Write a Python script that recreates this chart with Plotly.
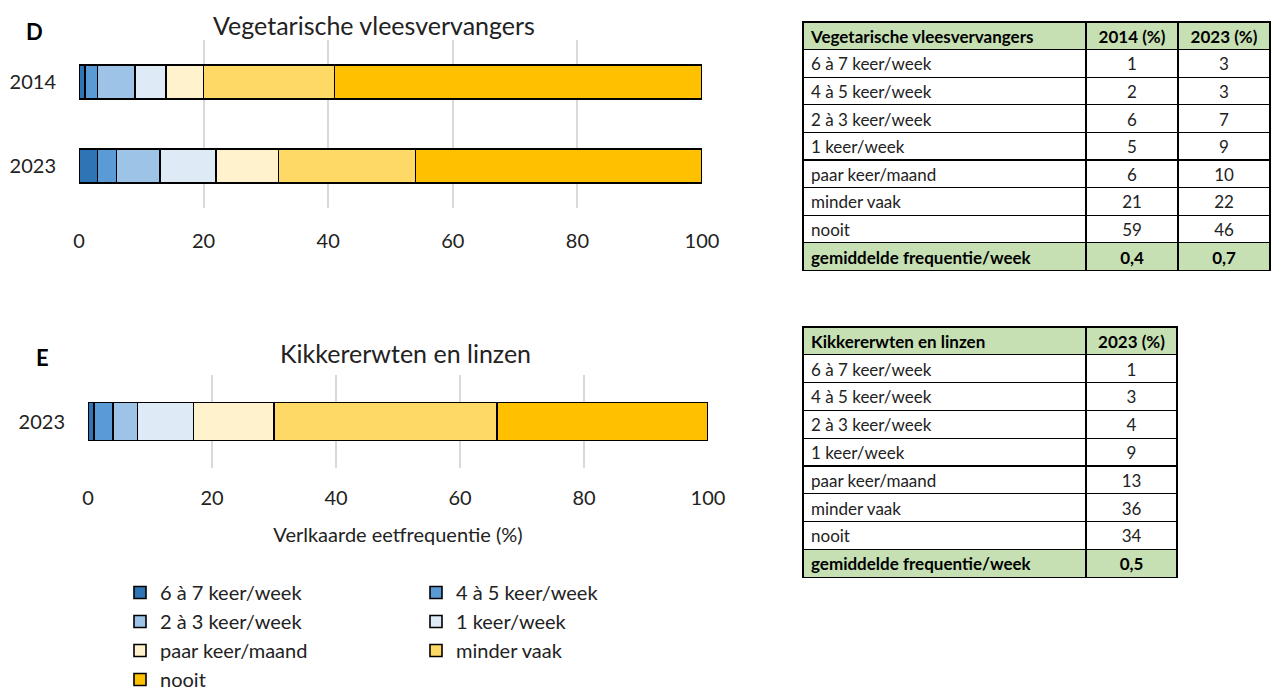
import plotly.graph_objects as go

# ---------------- data ----------------
categories = ["6 à 7 keer/week", "4 à 5 keer/week", "2 à 3 keer/week", "1 keer/week",
              "paar keer/maand", "minder vaak", "nooit"]
years_veg = ["2014", "2023"]
veg_2014 = [1, 2, 6, 5, 6, 21, 59]
veg_2023 = [3, 3, 7, 9, 10, 22, 46]
years_kik = ["2023"]
kik_2023 = [1, 3, 4, 9, 13, 36, 34]
avg_label = "gemiddelde frequentie/week"
veg_avg = ["0,4", "0,7"]
kik_avg = ["0,5"]
title_veg = "Vegetarische vleesvervangers"
title_kik = "Kikkererwten en linzen"
x_ticks = [0, 20, 40, 60, 80, 100]

colors = ["#2E75B6", "#5B9BD5", "#9DC3E6", "#DEEBF7", "#FFF2CC", "#FFD966", "#FFC000"]
FONT = "Lato"
TXT = "#222222"
OFF = 8  # default page body margin
W, H = 1279 - OFF, 695 - OFF

def px_x(p):
    return (p - OFF) / W

def px_y(p):
    return 1 - (p - OFF) / H

fig = go.Figure()

# ---------------- bars ----------------
for i, cat in enumerate(categories):
    fig.add_trace(go.Bar(
        x=[veg_2014[i], veg_2023[i]], y=years_veg, orientation="h",
        name=cat, marker=dict(color=colors[i], line=dict(color="black", width=1.6)),
        xaxis="x", yaxis="y", legend="legend" if i % 2 == 0 else "legend2",
        legendgroup=cat, showlegend=True, hoverinfo="x+name"))
    fig.add_trace(go.Bar(
        x=[kik_2023[i]], y=years_kik, orientation="h",
        name=cat, marker=dict(color=colors[i], line=dict(color="black", width=1.6)),
        xaxis="x2", yaxis="y2", legendgroup=cat, showlegend=False, hoverinfo="x+name"))

# ---------------- tables ----------------
GREEN = "#C6E0B4"
LINE = dict(color="black", width=1.2)
n = len(categories)


def add_table(x0, x1, top, row_h, colw, head, cols, foot):
    ncol = len(head)
    align = ["left"] + ["center"] * (ncol - 1)
    body_bottom = top + (n + 1) * row_h
    fig.add_trace(go.Table(
        domain=dict(x=[px_x(x0), px_x(x1)], y=[px_y(body_bottom + 2), px_y(top)]),
        columnwidth=colw,
        header=dict(values=head, fill_color=GREEN, line=LINE, align=align, height=row_h,
                    font=dict(family=FONT, size=17, color="black", weight="bold")),
        cells=dict(values=cols, fill_color="white", line=LINE, align=align, height=row_h,
                   font=dict(family=FONT, size=17, color=TXT)),
    ))
    # summary row (bold, green)
    fig.add_trace(go.Table(
        domain=dict(x=[px_x(x0), px_x(x1)], y=[px_y(body_bottom + row_h + 6), px_y(body_bottom)]),
        columnwidth=colw,
        header=dict(values=foot, fill_color=GREEN, line=LINE, align=align, height=row_h,
                    font=dict(family=FONT, size=17, color="black", weight="bold")),
        cells=dict(values=[[] for _ in range(ncol)], fill_color="white",
                   line=dict(color="rgba(0,0,0,0)", width=0), height=1),
    ))


add_table(803, 1270, 22, 27.6, [283, 92, 92],
          [title_veg, "2014 (%)", "2023 (%)"],
          [categories, veg_2014, veg_2023],
          [avg_label] + veg_avg)
add_table(803, 1177, 327, 27.8, [283, 91],
          [title_kik, "2023 (%)"],
          [categories, kik_2023],
          [avg_label] + kik_avg)

# ---------------- layout ----------------
axis_font = dict(family=FONT, size=20, color=TXT)
fig.update_layout(
    width=W, height=H,
    margin=dict(l=0, r=0, t=0, b=0, autoexpand=False),
    paper_bgcolor="white", plot_bgcolor="white",
    barmode="stack", bargap=0.59,
    font=dict(family=FONT, color=TXT),
    xaxis=dict(domain=[px_x(79), px_x(702)], range=[0, 100], tickvals=x_ticks,
               showgrid=True, gridcolor="#D9D9D9", gridwidth=2, zeroline=False,
               showline=False, ticks="", tickfont=axis_font, ticklabelstandoff=19,
               anchor="y", fixedrange=True, automargin=False),
    yaxis=dict(domain=[px_y(208), px_y(40)], range=[1.5, -0.5], type="category",
               showgrid=False, zeroline=False, showline=False, ticks="",
               tickfont=axis_font, ticklabelstandoff=22, anchor="x", fixedrange=True,
               automargin=False),
    xaxis2=dict(domain=[px_x(88), px_x(708)], range=[0, 100], tickvals=x_ticks,
                showgrid=True, gridcolor="#D9D9D9", gridwidth=2, zeroline=False,
                showline=False, ticks="", tickfont=axis_font, ticklabelstandoff=16,
                title=dict(text="Verlkaarde eetfrequentie (%)", font=axis_font, standoff=19),
                anchor="y2", fixedrange=True, automargin=False),
    yaxis2=dict(domain=[px_y(468), px_y(375)], range=[-0.5, 0.5], type="category",
                showgrid=False, zeroline=False, showline=False, ticks="",
                tickfont=axis_font, ticklabelstandoff=22, anchor="x2", fixedrange=True,
                automargin=False),
    legend=dict(x=px_x(120), y=px_y(573), xanchor="left", yanchor="top",
                orientation="v", traceorder="normal", tracegroupgap=3.3,
                font=dict(family=FONT, size=20, color=TXT), bgcolor="rgba(0,0,0,0)"),
    legend2=dict(x=px_x(416), y=px_y(573), xanchor="left", yanchor="top",
                 orientation="v", traceorder="normal", tracegroupgap=3.3,
                 font=dict(family=FONT, size=20, color=TXT), bgcolor="rgba(0,0,0,0)"),
    annotations=[
        dict(text=title_veg, x=px_x(374), y=px_y(25), xref="paper", yref="paper",
             xanchor="center", yanchor="middle",
             showarrow=False, font=dict(family=FONT, size=25, color=TXT)),
        dict(text=title_kik, x=px_x(405), y=px_y(353), xref="paper", yref="paper",
             xanchor="center", yanchor="middle",
             showarrow=False, font=dict(family=FONT, size=25, color=TXT)),
        dict(text="<b>D</b>", x=px_x(34), y=px_y(32), xref="paper", yref="paper",
             xanchor="center", yanchor="middle",
             showarrow=False, font=dict(family=FONT, size=22, color="black")),
        dict(text="<b>E</b>", x=px_x(42), y=px_y(357), xref="paper", yref="paper",
             xanchor="center", yanchor="middle",
             showarrow=False, font=dict(family=FONT, size=22, color="black")),
    ],
)

fig.write_html("out.html")
